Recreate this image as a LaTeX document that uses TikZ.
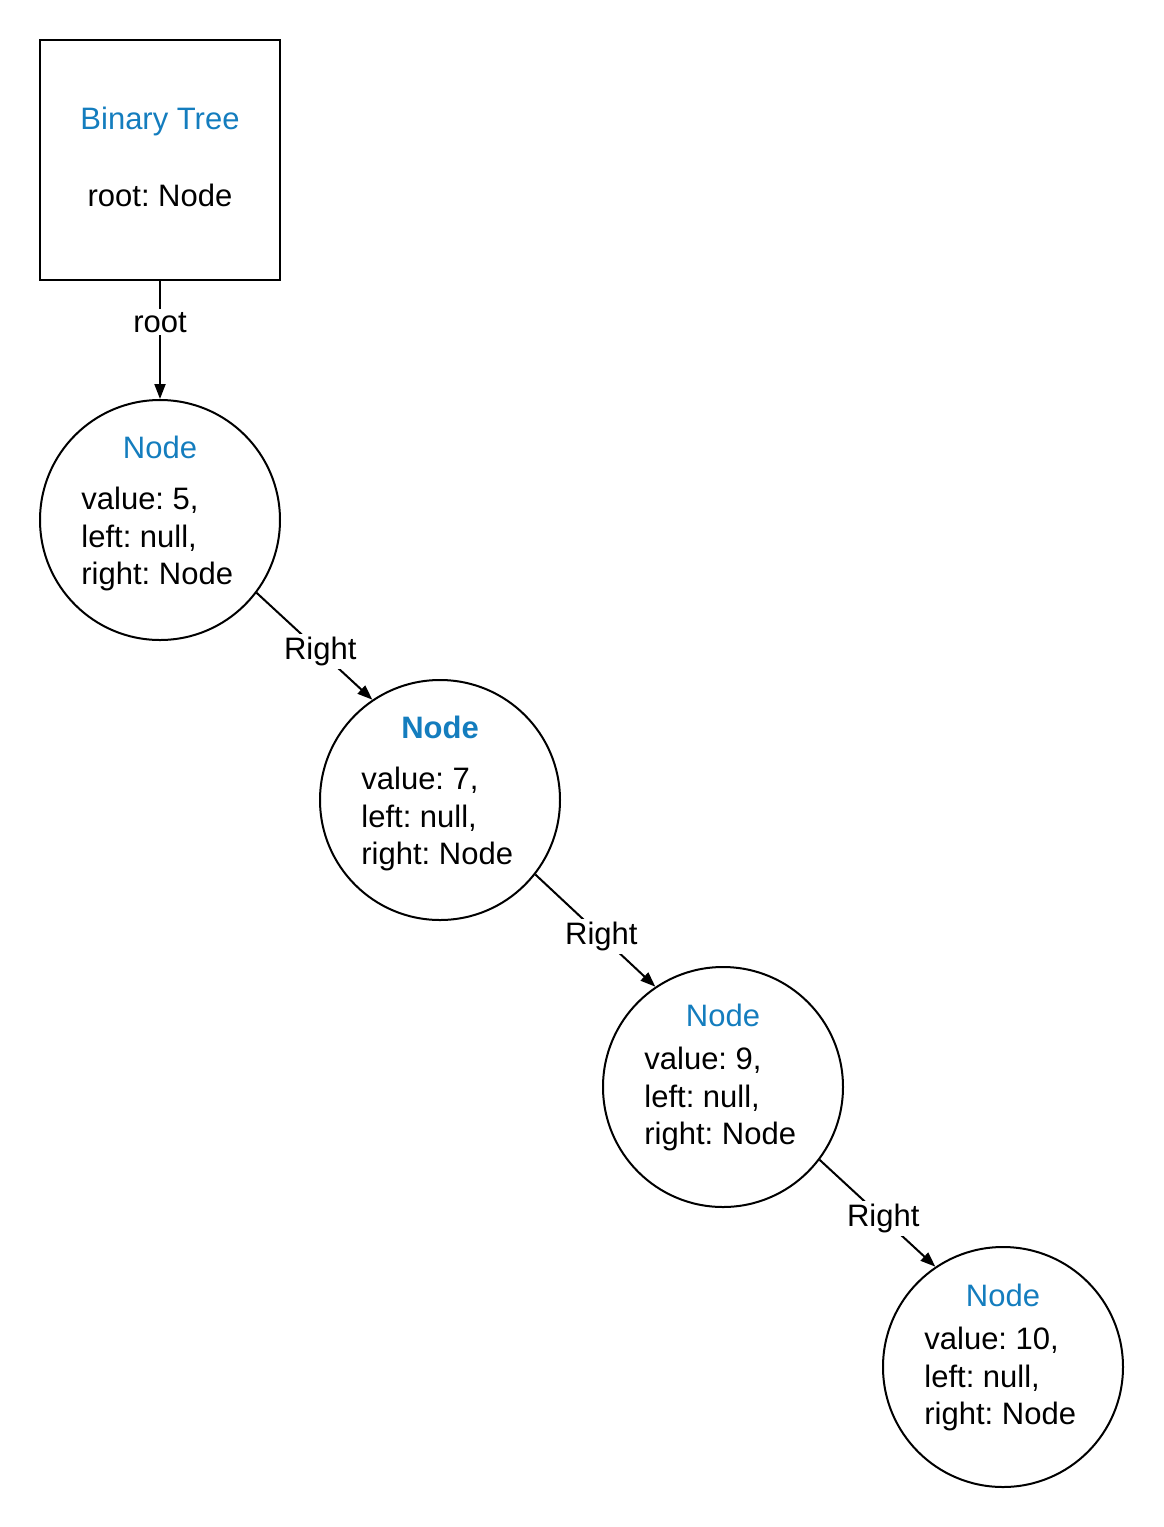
\documentclass[tikz,border=0pt]{standalone}
\usepackage{fontspec}
\setmainfont{Liberation Sans}
\usepackage{tikz}
\usetikzlibrary{arrows.meta}
\definecolor{treeblue}{RGB}{20,125,190}
\frenchspacing
\tikzset{treenode/.style={draw,circle,line width=1pt,minimum size=120pt,inner sep=0pt},
    treebox/.style={draw,rectangle,line width=1pt,minimum size=120pt,inner sep=0pt},
    title/.style={text=treeblue,inner sep=0pt},
    body/.style={align=left,inner sep=0pt,anchor=west},
    link/.style={draw,line width=1pt,-{Triangle[length=7.5pt,width=5.5pt]}},
    tag/.style={fill=white,inner sep=1.5pt},
    x=0.5pt,y=-0.5pt}

\begin{document}
\begin{tikzpicture}[font=\fontsize{15.5}{18.9}\selectfont]
    \useasboundingbox (0,0) rectangle (1163,1527);
    % the tree object
    \node[treebox] (tree) at (160,160) {};
    \node[title] (treetitle) at (160,121) {Binary Tree};
    \node[inner sep=0pt] (treeroot) at (160,195) {root: Node};
    % the nodes
    \node[treenode] (n5) at (160,520) {};
    \node[title] (t5) at (160,447) {Node};
    \node[body] (b5) at (81,539) {value: 5,\\left: null,\\right: Node};
    \node[treenode] (n7) at (440,800) {};
    \node[title,font=\fontsize{15.5}{18.9}\selectfont\bfseries] (t7) at (440,727) {Node};
    \node[body] (b7) at (361,819) {value: 7,\\left: null,\\right: Node};
    \node[treenode] (n9) at (723,1087) {};
    \node[title] (t9) at (723,1015) {Node};
    \node[body] (b9) at (644,1099) {value: 9,\\left: null,\\right: Node};
    \node[treenode] (n10) at (1003,1367) {};
    \node[title] (t10) at (1003,1295) {Node};
    \node[body] (b10) at (924,1379) {value: 10,\\left: null,\\right: Node};
    % links
    \path[link] (tree.south) -- node[tag,pos=0.35] {root} (n5.north);
    \path[link] (n5.-37) -- node[tag,pos=0.55] {Right} (n7.124);
    \path[link] (n7.-38) -- node[tag,pos=0.55] {Right} (n9.124);
    \path[link] (n9.-37) -- node[tag,pos=0.55] {Right} (n10.124);
\end{tikzpicture}
\end{document}
